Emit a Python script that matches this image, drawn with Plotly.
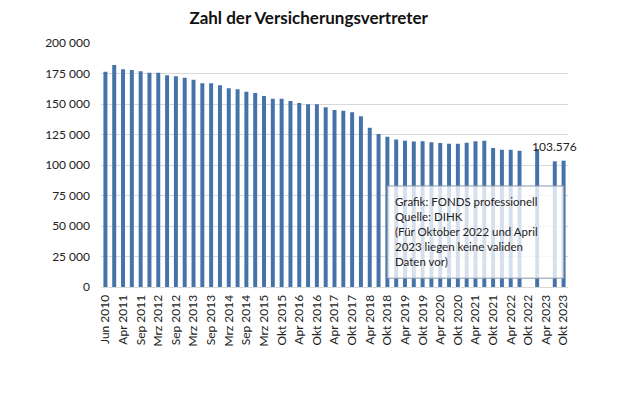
import plotly.graph_objects as go

categories = [
    "Jun 2010", "Jan 2011", "Apr 2011", "Jul 2011", "Sep 2011", "Jan 2012", "Mrz 2012", "Jul 2012",
    "Sep 2012", "Jan 2013", "Mrz 2013", "Jul 2013", "Sep 2013", "Jan 2014", "Mrz 2014", "Jul 2014",
    "Sep 2014", "Jan 2015", "Mrz 2015", "Jul 2015", "Okt 2015", "Jan 2016", "Apr 2016", "Jul 2016",
    "Okt 2016", "Jan 2017", "Apr 2017", "Jul 2017", "Okt 2017", "Jan 2018", "Apr 2018", "Jul 2018",
    "Okt 2018", "Jan 2019", "Apr 2019", "Jul 2019", "Okt 2019", "Jan 2020", "Apr 2020", "Jul 2020",
    "Okt 2020", "Jan 2021", "Apr 2021", "Jul 2021", "Okt 2021", "Jan 2022", "Apr 2022", "Jul 2022",
    "Okt 2022", "Jan 2023", "Apr 2023", "Jul 2023", "Okt 2023",
]

values = [
    176500, 182000, 178400, 177900, 176800, 175700, 175700, 173500,
    172700, 171600, 169900, 167000, 167000, 165300, 162900, 162000,
    160100, 159000, 156600, 154400, 154400, 152500, 150800, 149700,
    149700, 147300, 145100, 144500, 143200, 139900, 130600, 125400,
    123200, 121000, 119900, 119300, 119400, 118600, 118000, 117500,
    117500, 118300, 119400, 119900, 113900, 112600, 112600, 111700,
    None, 113100, None, 103000, 103576,
]

tick_labels = [
    "Jun 2010", "Apr 2011", "Sep 2011", "Mrz 2012", "Sep 2012", "Mrz 2013", "Sep 2013",
    "Mrz 2014", "Sep 2014", "Mrz 2015", "Okt 2015", "Apr 2016", "Okt 2016", "Apr 2017",
    "Okt 2017", "Apr 2018", "Okt 2018", "Apr 2019", "Okt 2019", "Apr 2020", "Okt 2020",
    "Apr 2021", "Okt 2021", "Apr 2022", "Okt 2022", "Apr 2023", "Okt 2023",
]

value_label = "103.576"
value_label_category = "Jul 2023"
value_label_y = 103576

note_lines = [
    "Grafik: FONDS professionell",
    "Quelle: DIHK",
    "(Für Oktober 2022 und April",
    "2023 liegen keine validen",
    "Daten vor)",
]

title = "Zahl der Versicherungsvertreter"

FONT = "Lato, Carlito, Calibri, Arial, sans-serif"

fig = go.Figure()
fig.add_trace(go.Bar(
    x=categories,
    y=values,
    marker=dict(color="#4573A9", line=dict(width=0)),
    hoverinfo="x+y",
))

# the page body has an 8px margin, so the figure is 8px smaller than the window
fig.update_layout(
    width=612,
    height=405,
    paper_bgcolor="white",
    plot_bgcolor="white",
    margin=dict(l=93, r=52, t=35, b=126, autoexpand=False),
    bargap=0.55,
    showlegend=False,
    separators=", ",
    font=dict(family=FONT, size=12, color="#222222"),
    title=dict(
        text="<b>" + title + "</b>",
        x=0.4913, xanchor="center",
        y=0.99, yanchor="top",
        font=dict(family=FONT, size=17, color="#111111"),
    ),
    xaxis=dict(
        type="category",
        categoryorder="array",
        categoryarray=categories,
        range=[-0.5, len(categories) - 0.5],
        autorange=False,
        tickmode="array",
        tickvals=tick_labels,
        ticktext=tick_labels,
        tickangle=-90,
        tickfont=dict(family=FONT, size=12, color="#222222"),
        showgrid=False,
        showline=True,
        linecolor="#d9d9d9",
        linewidth=1,
        ticks="",
        ticklabelstandoff=2,
    ),
    yaxis=dict(
        range=[0, 200000],
        tickmode="linear",
        tick0=0,
        dtick=25000,
        tickformat=",d",
        tickfont=dict(family=FONT, size=12, color="#222222"),
        showgrid=True,
        gridcolor="#d9d9d9",
        gridwidth=1,
        zeroline=False,
        ticks="",
        ticklabelstandoff=10,
    ),
)

fig.add_annotation(
    x=value_label_category, y=value_label_y,
    xref="x", yref="y",
    text=value_label,
    showarrow=False,
    yanchor="bottom",
    yshift=5,
    font=dict(family=FONT, size=12, color="#222222"),
)

# note box
fig.add_shape(
    type="rect",
    xref="paper", yref="paper",
    x0=0.613, x1=0.991, y0=0.036, y1=0.414,
    fillcolor="rgba(255,255,255,0.78)",
    line=dict(color="#8797ab", width=1),
    layer="above",
)
fig.add_annotation(
    xref="paper", yref="paper",
    x=0.626, y=0.385,
    xanchor="left", yanchor="top",
    align="left",
    showarrow=False,
    text="<br>".join(note_lines),
    font=dict(family=FONT, size=11.5, color="#222222"),
)

fig.write_html("out.html")
